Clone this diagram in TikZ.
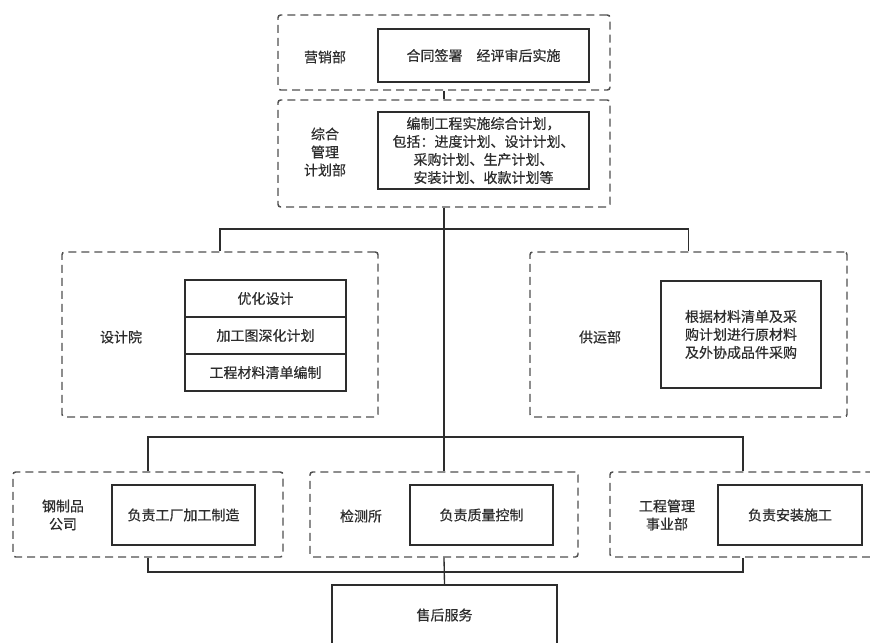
\documentclass[tikz,border=0pt]{standalone}
\usepackage{fontspec}
\setmainfont{Noto Sans CJK SC}[FakeBold=0.5]
\usepackage{tikz}
\definecolor{lineGray}{RGB}{80,80,80}
\definecolor{boxGray}{RGB}{45,45,45}
\usetikzlibrary{positioning}
\tikzstyle{deptBox} = [draw=lineGray, dash pattern=on 6pt off 3.75pt, line width=1.1pt, rounded corners=2pt, inner sep=0pt]
\tikzstyle{taskBox} = [draw=boxGray, line width=1pt, fill=white, align=center, inner sep=0pt, text=boxGray]
\tikzstyle{deptLabel} = [align=center, text=boxGray]
\tikzstyle{link} = [draw=boxGray, line width=1pt]

\begin{document}
\begin{tikzpicture}[x=0.75pt, y=-0.75pt, font=\fontsize{10.5}{13.5}\selectfont]
        \clip (0,0) rectangle (870,642);
        % Departments
        \node [deptBox, minimum width=249pt, minimum height=56.25pt] (mkt) at (444,52.5) {};
        \node [deptBox, minimum width=249pt, minimum height=80.25pt] (plan) at (444,153.5) {};
        \node [deptBox, minimum width=237pt, minimum height=123.75pt] (design) at (220,334.5) {};
        \node [deptBox, minimum width=237.75pt, minimum height=123.75pt] (supply) at (688.5,334.5) {};
        \node [deptBox, minimum width=202.5pt, minimum height=63.75pt] (steel) at (148,514.5) {};
        \node [deptBox, minimum width=201pt, minimum height=63.75pt] (test) at (444,514.5) {};
        \node [deptBox, minimum width=199.5pt, minimum height=63.75pt] (eng) at (743,514.5) {};

        % Labels
        \node [deptLabel] (mktLbl) at (325,57) {营销部};
        \node [deptLabel] (planLbl) at (325,152) {综合\\管理\\计划部};
        \node [deptLabel] (designLbl) at (121,337) {设计院};
        \node [deptLabel] (supplyLbl) at (600,337) {供运部};
        \node [deptLabel] (steelLbl) at (63,515) {钢制品\\公司};
        \node [deptLabel] (testLbl) at (361,516) {检测所};
        \node [deptLabel] (engLbl) at (667,515) {工程管理\\事业部};

        % Tasks
        \node [taskBox, minimum width=158.25pt, minimum height=39.75pt] (sign) at (483.5,55.5) {合同签署\quad 经评审后实施};
        \node [taskBox, minimum width=158.25pt, minimum height=57.75pt] (planTxt) at (483.5,150.5) {编制工程实施综合计划，\\包括：进度计划、设计计划、\\采购计划、生产计划、\\安装计划、收款计划等};
        \node [taskBox, minimum width=120.75pt, minimum height=27.75pt] (opt) at (265.5,298.5) {优化设计};
        \node [taskBox, minimum width=120.75pt, minimum height=27.75pt, below=-1pt of opt] (deep) {加工图深化计划};
        \node [taskBox, minimum width=120.75pt, minimum height=27.75pt, below=-1pt of deep] (bom) {工程材料清单编制};
        \node [taskBox, minimum width=120pt, minimum height=80.25pt] (buy) at (741,334.5) {根据材料清单及采\\购计划进行原材料\\及外协成品件采购};
        \node [taskBox, minimum width=107.25pt, minimum height=45pt] (make) at (183.5,515) {负责工厂加工制造};
        \node [taskBox, minimum width=107.25pt, minimum height=45pt] (qc) at (481.5,515) {负责质量控制};
        \node [taskBox, minimum width=108pt, minimum height=45pt] (install) at (790,515) {负责安装施工};
        \node [taskBox, minimum width=168.75pt, minimum height=45pt] (service) at (444.5,615) {售后服务};

        % Lines
        \coordinate (br1) at (444,229);
        \coordinate (br2) at (444,437);
        \coordinate (br3) at (444,572);
        \draw [link] (mkt.south) -- (plan.north);
        \draw [link] (plan.south) -- (test.north);
        \draw [link] (design.north) |- (br1) -| (supply.north);
        \draw [link] (steel.north) |- (br2) -| (eng.north);
        \draw [link] (steel.south) |- (br3) -| (eng.south);
        \draw [link] (test.south) -- (service.north);
    \end{tikzpicture}
\end{document}
